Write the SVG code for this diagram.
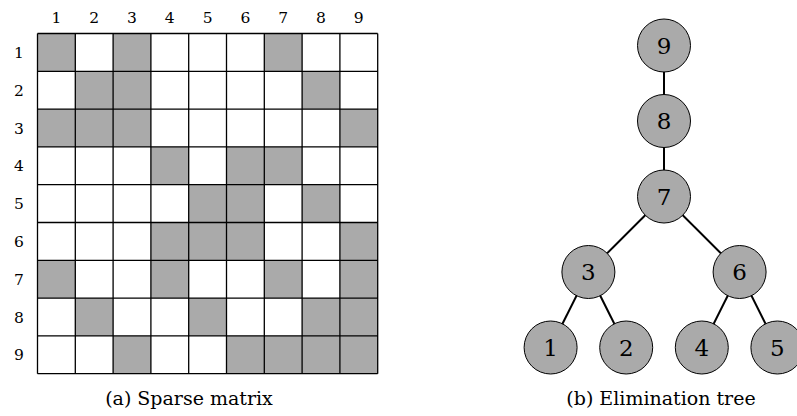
<svg xmlns="http://www.w3.org/2000/svg" width="797" height="416" viewBox="0 0 797 416">
<style>
text{font-family:"DejaVu Serif","Liberation Serif",serif;fill:#000;text-anchor:middle}
.lbl{font-size:15.5px}
.cap{font-size:19px}
.nd{font-size:23px}
.on{fill:#aaaaaa}
.grid{stroke:#000;stroke-width:1.3;fill:none}
.edge{stroke:#000;stroke-width:2}
.node circle{fill:#aaaaaa;stroke:#000;stroke-width:1}
</style>
<rect width="797" height="416" fill="#fff"/>
<g id="matrix">
<g id="cells">
<rect class="on" x="37.5" y="33.5" width="37.8" height="37.8"/>
<rect class="on" x="113.1" y="33.5" width="37.8" height="37.8"/>
<rect class="on" x="264.3" y="33.5" width="37.8" height="37.8"/>
<rect class="on" x="75.3" y="71.3" width="37.8" height="37.8"/>
<rect class="on" x="113.1" y="71.3" width="37.8" height="37.8"/>
<rect class="on" x="302.1" y="71.3" width="37.8" height="37.8"/>
<rect class="on" x="37.5" y="109.1" width="37.8" height="37.8"/>
<rect class="on" x="75.3" y="109.1" width="37.8" height="37.8"/>
<rect class="on" x="113.1" y="109.1" width="37.8" height="37.8"/>
<rect class="on" x="339.9" y="109.1" width="37.8" height="37.8"/>
<rect class="on" x="150.9" y="146.9" width="37.8" height="37.8"/>
<rect class="on" x="226.5" y="146.9" width="37.8" height="37.8"/>
<rect class="on" x="264.3" y="146.9" width="37.8" height="37.8"/>
<rect class="on" x="188.7" y="184.7" width="37.8" height="37.8"/>
<rect class="on" x="226.5" y="184.7" width="37.8" height="37.8"/>
<rect class="on" x="302.1" y="184.7" width="37.8" height="37.8"/>
<rect class="on" x="150.9" y="222.5" width="37.8" height="37.8"/>
<rect class="on" x="188.7" y="222.5" width="37.8" height="37.8"/>
<rect class="on" x="226.5" y="222.5" width="37.8" height="37.8"/>
<rect class="on" x="339.9" y="222.5" width="37.8" height="37.8"/>
<rect class="on" x="37.5" y="260.3" width="37.8" height="37.8"/>
<rect class="on" x="150.9" y="260.3" width="37.8" height="37.8"/>
<rect class="on" x="264.3" y="260.3" width="37.8" height="37.8"/>
<rect class="on" x="339.9" y="260.3" width="37.8" height="37.8"/>
<rect class="on" x="75.3" y="298.1" width="37.8" height="37.8"/>
<rect class="on" x="188.7" y="298.1" width="37.8" height="37.8"/>
<rect class="on" x="302.1" y="298.1" width="37.8" height="37.8"/>
<rect class="on" x="339.9" y="298.1" width="37.8" height="37.8"/>
<rect class="on" x="113.1" y="335.9" width="37.8" height="37.8"/>
<rect class="on" x="226.5" y="335.9" width="37.8" height="37.8"/>
<rect class="on" x="264.3" y="335.9" width="37.8" height="37.8"/>
<rect class="on" x="302.1" y="335.9" width="37.8" height="37.8"/>
<rect class="on" x="339.9" y="335.9" width="37.8" height="37.8"/>
</g>
<path class="grid" d="M37.5 33.5V373.7M75.3 33.5V373.7M113.1 33.5V373.7M150.9 33.5V373.7M188.7 33.5V373.7M226.5 33.5V373.7M264.3 33.5V373.7M302.1 33.5V373.7M339.9 33.5V373.7M377.7 33.5V373.7M37.5 33.5H377.7M37.5 71.3H377.7M37.5 109.1H377.7M37.5 146.9H377.7M37.5 184.7H377.7M37.5 222.5H377.7M37.5 260.3H377.7M37.5 298.1H377.7M37.5 335.9H377.7M37.5 373.7H377.7"/>
<g id="col-labels">
<text class="lbl" x="56.4" y="22.5">1</text>
<text class="lbl" x="94.2" y="22.5">2</text>
<text class="lbl" x="132" y="22.5">3</text>
<text class="lbl" x="169.8" y="22.5">4</text>
<text class="lbl" x="207.6" y="22.5">5</text>
<text class="lbl" x="245.4" y="22.5">6</text>
<text class="lbl" x="283.2" y="22.5">7</text>
<text class="lbl" x="321" y="22.5">8</text>
<text class="lbl" x="358.8" y="22.5">9</text>
</g>
<g id="row-labels">
<text class="lbl" x="19" y="58">1</text>
<text class="lbl" x="19" y="95.8">2</text>
<text class="lbl" x="19" y="133.6">3</text>
<text class="lbl" x="19" y="171.4">4</text>
<text class="lbl" x="19" y="209.2">5</text>
<text class="lbl" x="19" y="247">6</text>
<text class="lbl" x="19" y="284.8">7</text>
<text class="lbl" x="19" y="322.6">8</text>
<text class="lbl" x="19" y="360.4">9</text>
</g>
<text id="caption-a" class="cap" x="189" y="405">(a) Sparse matrix</text>
</g>
<g id="connectors">
<line class="edge" x1="664" y1="45.5" x2="664" y2="121"/>
<line class="edge" x1="664" y1="121" x2="664" y2="196.5"/>
<line class="edge" x1="664" y1="196.5" x2="588.4" y2="272"/>
<line class="edge" x1="664" y1="196.5" x2="739.6" y2="272"/>
<line class="edge" x1="588.4" y1="272" x2="550.6" y2="347.5"/>
<line class="edge" x1="588.4" y1="272" x2="626.2" y2="347.5"/>
<line class="edge" x1="739.6" y1="272" x2="701.8" y2="347.5"/>
<line class="edge" x1="739.6" y1="272" x2="777.4" y2="347.5"/>
</g>
<g id="node-9" class="node"><circle cx="664" cy="45.5" r="26.5"/><text class="nd" x="664" y="53.8">9</text></g>
<g id="node-8" class="node"><circle cx="664" cy="121" r="26.5"/><text class="nd" x="664" y="129.3">8</text></g>
<g id="node-7" class="node"><circle cx="664" cy="196.5" r="26.5"/><text class="nd" x="664" y="204.8">7</text></g>
<g id="node-3" class="node"><circle cx="588.4" cy="272" r="26.5"/><text class="nd" x="588.4" y="280.3">3</text></g>
<g id="node-6" class="node"><circle cx="739.6" cy="272" r="26.5"/><text class="nd" x="739.6" y="280.3">6</text></g>
<g id="node-1" class="node"><circle cx="550.6" cy="347.5" r="26.5"/><text class="nd" x="550.6" y="355.8">1</text></g>
<g id="node-2" class="node"><circle cx="626.2" cy="347.5" r="26.5"/><text class="nd" x="626.2" y="355.8">2</text></g>
<g id="node-4" class="node"><circle cx="701.8" cy="347.5" r="26.5"/><text class="nd" x="701.8" y="355.8">4</text></g>
<g id="node-5" class="node"><circle cx="777.4" cy="347.5" r="26.5"/><text class="nd" x="777.4" y="355.8">5</text></g>
<text id="caption-b" class="cap" x="661" y="405">(b) Elimination tree</text>
</svg>
